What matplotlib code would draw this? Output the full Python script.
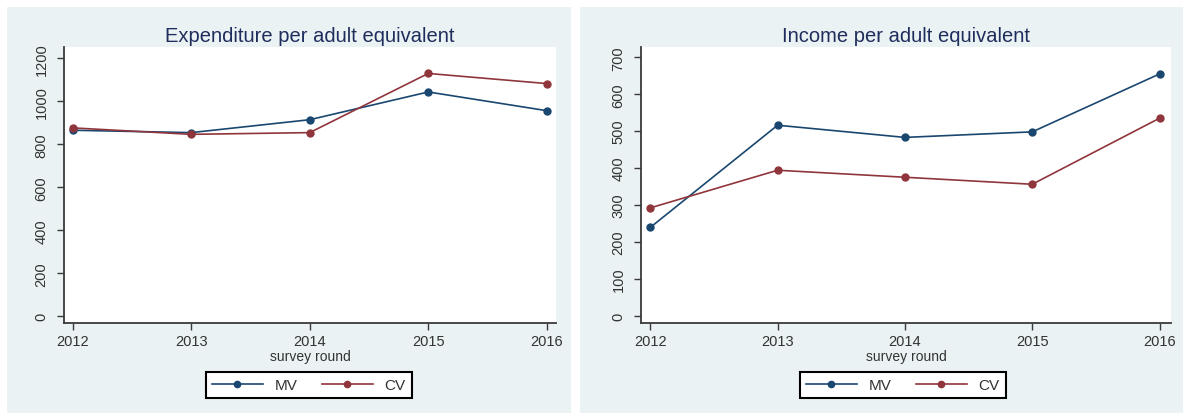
import matplotlib
matplotlib.use("Agg")
import matplotlib.pyplot as plt
from matplotlib.patches import Rectangle
from matplotlib.lines import Line2D

plt.rcParams['font.family'] = ['Liberation Sans', 'DejaVu Sans']

# Survey rounds and per-adult-equivalent values for the two groups
years = [2012, 2013, 2014, 2015, 2016]
exp_mv = [865, 854, 914, 1043, 956]
exp_cv = [876, 846, 854, 1129, 1082]
inc_mv = [239, 516, 483, 498, 655]
inc_cv = [292, 394, 375, 356, 535]

exp_ticks = [0, 200, 400, 600, 800, 1000, 1200]
inc_ticks = [0, 100, 200, 300, 400, 500, 600, 700]

MV_COLOR = '#1A476F'
CV_COLOR = '#90353B'
PANEL_BG = '#EAF2F3'
TITLE_COLOR = '#1F2D5C'
TEXT_COLOR = '#333333'

W, H = 1183, 414
fig = plt.figure(figsize=(W / 100, H / 100), dpi=100, facecolor='white')

# Panel backgrounds (drawn beneath the axes)
fig.patches.append(Rectangle((7 / W, 0), (571 - 7) / W, (H - 8) / H,
                             transform=fig.transFigure, facecolor=PANEL_BG,
                             edgecolor='none', zorder=-10))
fig.patches.append(Rectangle((580 / W, 0), (W - 580) / W, (H - 8) / H,
                             transform=fig.transFigure, facecolor=PANEL_BG,
                             edgecolor='none', zorder=-10))


def make_panel(rect, mv, cv, ticks, ylim, xlim, title):
    ax = fig.add_axes(rect)
    ax.set_zorder(1)
    ax.set_facecolor('white')
    ax.plot(years, mv, color=MV_COLOR, lw=1.2, marker='o', ms=5, zorder=3)
    ax.plot(years, cv, color=CV_COLOR, lw=1.2, marker='o', ms=5, zorder=3)
    ax.set_xlim(*xlim)
    ax.set_ylim(*ylim)
    ax.set_xticks(years)
    ax.set_xticklabels([str(y) for y in years])
    ax.set_yticks(ticks)
    ax.set_yticklabels([str(t) for t in ticks], rotation=90, va='center')
    for s in ('top', 'right'):
        ax.spines[s].set_visible(False)
    for s in ('left', 'bottom'):
        ax.spines[s].set_color('#3a3a3a')
        ax.spines[s].set_linewidth(1.3)
    ax.tick_params(axis='both', direction='out', length=5, width=1,
                   color='#3a3a3a', labelcolor=TEXT_COLOR, labelsize=10.5)
    ax.tick_params(axis='y', pad=6)
    ax.tick_params(axis='x', pad=3)
    ax.set_xlabel('survey round', fontsize=10, color=TEXT_COLOR, labelpad=1)
    ax.set_title(title, fontsize=14.5, color=TITLE_COLOR, pad=4)
    return ax


ax1 = make_panel([64 / W, (H - 324) / H, (556 - 64) / W, (324 - 48) / H],
                 exp_mv, exp_cv, exp_ticks, (-31, 1252), (2011.927, 2016.078),
                 'Expenditure per adult equivalent')
ax2 = make_panel([641 / W, (H - 324) / H, (1171 - 641) / W, (324 - 48) / H],
                 inc_mv, inc_cv, inc_ticks, (-20, 728), (2011.927, 2016.09),
                 'Income per adult equivalent')

handles = [Line2D([], [], color=MV_COLOR, lw=1.2, marker='o', ms=4.5),
           Line2D([], [], color=CV_COLOR, lw=1.2, marker='o', ms=4.5)]

for cx in (309, 903):
    leg = fig.legend(handles, ['MV', 'CV'], loc='center',
                     bbox_to_anchor=(cx / W, 1 - 386 / H), ncol=2,
                     fontsize=11, frameon=True, fancybox=False,
                     edgecolor='black', handlelength=3.3, columnspacing=1.6,
                     handletextpad=0.8, borderpad=0.4)
    leg.get_frame().set_linewidth(1.5)
    leg.get_frame().set_facecolor('white')
    leg.get_frame().set_alpha(1)
    for t in leg.get_texts():
        t.set_color(TEXT_COLOR)

fig.savefig('out.png', dpi=100, facecolor='white')
